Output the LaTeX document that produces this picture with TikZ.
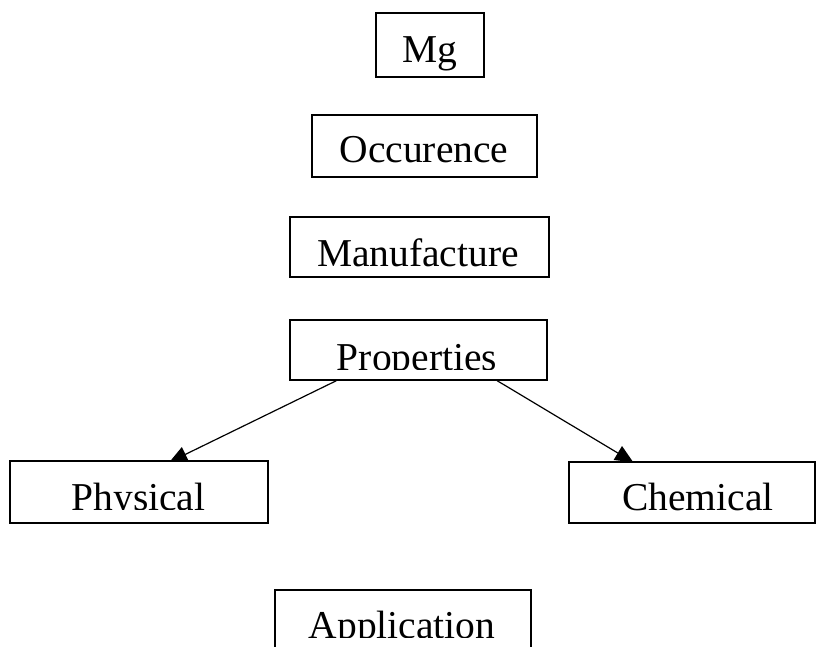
\documentclass[tikz,border=0pt]{standalone}
\usepackage{fontspec}
\setmainfont{Liberation Serif}
\usetikzlibrary{arrows.meta,calc,backgrounds}
\begin{document}
\begin{tikzpicture}[x=1pt,y=-1pt,
  boxnode/.style={draw=black,line width=1.5pt,fill=white,inner sep=0pt,
                  minimum width=#1},
  txt/.style={inner sep=0pt,anchor=base,font=\fontsize{39.5}{44}\selectfont},
  arr/.style={line width=1.2pt,-{Triangle[length=18pt,width=16pt]}}]
\useasboundingbox (0,0) rectangle (816,646);
% boxes
\node[boxnode=108pt,minimum height=64pt] (mg)   at (430,45) {};
\node[boxnode=225pt,minimum height=62pt] (occ)  at (424.5,146) {};
\node[boxnode=259pt,minimum height=60pt] (man)  at (419.5,247) {};
\node[boxnode=257pt,minimum height=60pt] (prop) at (418.5,350) {};
\node[boxnode=258pt,minimum height=62pt] (phys) at (139,492) {};
\node[boxnode=246pt,minimum height=61pt] (chem) at (692,492.5) {};
\node[boxnode=256pt,minimum height=80pt] (app)  at (403,630) {};
% texts
\node[txt] (mgT)  at (430,62)  {Mg};
\node[txt] (occT) at (424,162) {Occurence};
\node[txt] (manT) at (418,266) {Manufacture};
\begin{scope}
  \clip ($(prop.north west)+(1,1)$) rectangle ($(prop.north east)+(-1,50)$);
  \node[txt] (propT) at (417,370) {Properties};
\end{scope}
\begin{scope}
  \clip ($(phys.north west)+(1,1)$) rectangle ($(phys.north east)+(-1,49)$);
  \node[txt] (physT) at (138.5,510) {Physical};
\end{scope}
\node[txt] (chemT) at (698,510) {Chemical};
\begin{scope}
  \clip ($(app.north west)+(1,1)$) rectangle ($(app.north east)+(-1,48)$);
  \node[txt] (appT) at (402,638) {Application};
\end{scope}
% connectors (behind box fills)
\begin{scope}[on background layer]
  \draw[arr] ($(prop.south west)+(47,0)$) -- ($(phys.north west)+(160,2)$);
  \draw[arr] ($(prop.south west)+(208,0)$) -- ($(chem.north west)+(65,1)$);
\end{scope}
\end{tikzpicture}
\end{document}
